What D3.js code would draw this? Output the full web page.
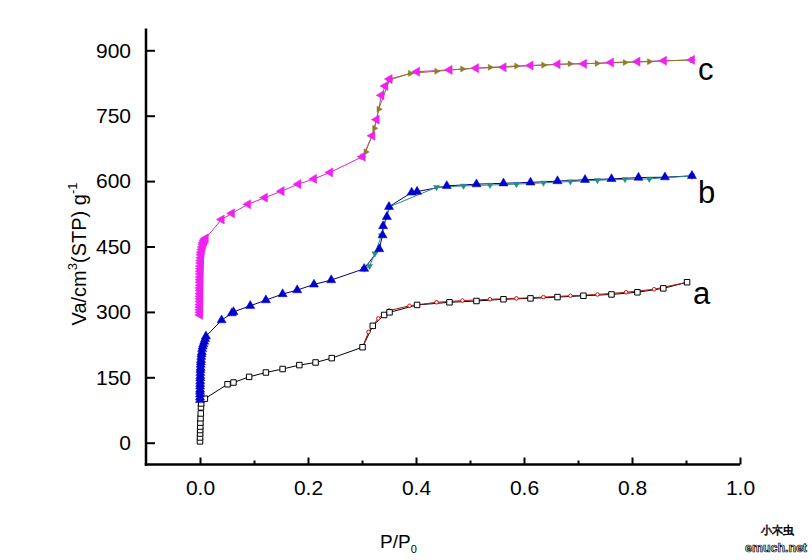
<!DOCTYPE html>
<html>
<head>
<meta charset="utf-8">
<script src="https://cdn.jsdelivr.net/npm/d3@7"></script>
<style>
  html, body { margin: 0; padding: 0; background: #fff; }
  svg { display: block; }
  text { font-family: "Liberation Sans", Arial, sans-serif; }
</style>
</head>
<body>
<svg id="chart" width="812" height="560"></svg>
<script>
// ---- data ----
const xTicks = [0.0, 0.2, 0.4, 0.6, 0.8, 1.0];
const xMinorTicks = [0.1, 0.3, 0.5, 0.7, 0.9];
const yTicks = [0, 150, 300, 450, 600, 750, 900];

// sample a
const aAdsX = [0.0000, 0.0001, 0.0002, 0.0003, 0.0005, 0.0007, 0.0010, 0.0014, 0.0018, 0.0022, 0.009, 0.051, 0.062, 0.091, 0.122, 0.153, 0.184, 0.214, 0.244, 0.301, 0.320, 0.341, 0.351, 0.402, 0.462, 0.512, 0.562, 0.612, 0.662, 0.710, 0.762, 0.810, 0.858, 0.902];
const aAdsY = [3, 12, 21, 29, 37, 46, 56, 67, 81, 90, 101, 134, 138, 151, 161, 169, 178, 184, 194, 219, 268, 293, 299, 316, 322, 325, 329, 331, 334, 337, 340, 345, 354, 368];
const aDesX = [0.902, 0.841, 0.789, 0.736, 0.686, 0.636, 0.586, 0.537, 0.486, 0.438, 0.388, 0.350, 0.330, 0.312, 0.301];
const aDesY = [368, 352, 345, 340, 337, 334, 331, 329, 326, 322, 314, 303, 285, 254, 219];

// sample b
const bAdsX = [0.0000, 0.0000, 0.0001, 0.0001, 0.0002, 0.0002, 0.0003, 0.0004, 0.0005, 0.0006, 0.0007, 0.0009, 0.0011, 0.0013, 0.0016, 0.0019, 0.0023, 0.0028, 0.0034, 0.0041, 0.0050, 0.0062, 0.0078, 0.0095, 0.011, 0.040, 0.059, 0.062, 0.093, 0.122, 0.153, 0.180, 0.211, 0.243, 0.304, 0.332, 0.338, 0.339, 0.346, 0.350, 0.392, 0.402, 0.457, 0.512, 0.562, 0.612, 0.662, 0.713, 0.762, 0.812, 0.861, 0.911];
const bAdsY = [98, 104, 111, 117, 122, 129, 135, 141, 148, 153, 160, 167, 172, 179, 185, 190, 197, 203, 208, 215, 221, 226, 232, 238, 244, 281, 297, 300, 314, 327, 341, 350, 363, 373, 399, 444, 476, 497, 518, 541, 574, 576, 589, 593, 595, 597, 600, 603, 605, 608, 609, 612];
const bDesX = [0.911, 0.832, 0.787, 0.736, 0.686, 0.636, 0.586, 0.537, 0.488, 0.438, 0.351, 0.336, 0.324, 0.314, 0.304];
const bDesY = [612, 605, 604, 602, 599, 596, 593, 591, 589, 586, 541, 475, 434, 405, 399];

// sample c
const cAdsX = [0.0000, 0.0000, 0.0000, 0.0000, 0.0001, 0.0001, 0.0001, 0.0002, 0.0002, 0.0003, 0.0003, 0.0004, 0.0004, 0.0005, 0.0006, 0.0007, 0.0008, 0.0009, 0.0011, 0.0013, 0.0015, 0.0018, 0.0021, 0.0026, 0.0035, 0.0045, 0.0055, 0.0065, 0.0078, 0.0090, 0.0105, 0.040, 0.059, 0.089, 0.120, 0.151, 0.182, 0.211, 0.241, 0.301, 0.319, 0.327, 0.336, 0.343, 0.351, 0.402, 0.462, 0.511, 0.562, 0.612, 0.662, 0.711, 0.761, 0.810, 0.859, 0.911];
const cAdsY = [293, 299, 305, 311, 317, 324, 330, 336, 342, 349, 355, 361, 368, 374, 380, 387, 393, 399, 405, 412, 418, 424, 431, 437, 443, 449, 455, 459, 463, 466, 469, 512, 526, 547, 562, 577, 593, 605, 620, 656, 704, 741, 797, 818, 834, 851, 855, 859, 861, 865, 868, 869, 872, 874, 876, 878];
const cDesX = [0.911, 0.832, 0.787, 0.735, 0.685, 0.636, 0.586, 0.537, 0.486, 0.438, 0.389, 0.351, 0.331, 0.323, 0.307, 0.301];
const cDesY = [878, 874, 872, 870, 869, 866, 864, 861, 857, 852, 847, 832, 765, 721, 667, 656];

const seriesLabels = ["a", "b", "c"];
const labelAnchorX = [0.902, 0.911, 0.911];
const labelAnchorY = [368, 612, 878];

// ---- chart ----
const svg = d3.select("#chart");
svg.append("rect").attr("width", 812).attr("height", 560).attr("fill", "#fff");

const x = d3.scaleLinear().domain([-0.1, 1.0]).range([146, 740]);
const y = d3.scaleLinear().domain([-50, 950]).range([464.5, 28.5]);

const zip = (xs, ys) => xs.map((v, i) => [v, ys[i]]);
const line = d3.line().x(d => x(d[0])).y(d => y(d[1]));

const ads = [
  { data: zip(aAdsX, aAdsY), stroke: "#000000", symbol: d3.symbolSquare, size: 30, rot: 0, fill: "#fff", mstroke: "#000", msw: 1 },
  { data: zip(bAdsX, bAdsY), stroke: "#000080", symbol: d3.symbolTriangle, size: 36, rot: 0, fill: "#0000cc", mstroke: "#0000cc", msw: 0.5 },
  { data: zip(cAdsX, cAdsY), stroke: "#dd22dd", symbol: d3.symbolTriangle, size: 36, rot: -90, fill: "#ee22ee", mstroke: "#ee22ee", msw: 0.5 }
];
const des = [
  { data: zip(aDesX, aDesY), stroke: "#b01818", symbol: d3.symbolCircle, size: 10, rot: 0, fill: "#fff", mstroke: "#d01010", msw: 1 },
  { data: zip(bDesX, bDesY), stroke: "#2a8a8a", symbol: d3.symbolTriangle, size: 16, rot: 180, fill: "#2a8a8a", mstroke: "#2a8a8a", msw: 0.5 },
  { data: zip(cDesX, cDesY), stroke: "#8a8020", symbol: d3.symbolTriangle, size: 16, rot: 90, fill: "#8a8020", mstroke: "#8a8020", msw: 0.5 }
];

function drawLine(s) {
  svg.append("path").datum(s.data)
    .attr("d", line).attr("fill", "none")
    .attr("stroke", s.stroke).attr("stroke-width", 1);
}
function drawMarks(s) {
  const sym = d3.symbol().type(s.symbol).size(s.size);
  svg.append("g").selectAll("path").data(s.data).join("path")
    .attr("d", sym)
    .attr("transform", d => `translate(${x(d[0])},${y(d[1])}) rotate(${s.rot})`)
    .attr("fill", s.fill).attr("stroke", s.mstroke).attr("stroke-width", s.msw);
}
ads.forEach(drawLine);
des.forEach(drawLine);
des.forEach(drawMarks);
ads.forEach(drawMarks);

// axes
const fontStack = '"Liberation Sans", Arial, sans-serif';
const yAxis = d3.axisLeft(y).tickValues(yTicks).tickSize(-9).tickSizeOuter(0).tickPadding(15).tickFormat(d3.format("d"));
const gy = svg.append("g").attr("transform", "translate(146,0)").call(yAxis);
gy.select(".domain").remove();
gy.selectAll(".tick line").attr("stroke", "#000").attr("stroke-width", 2);
gy.selectAll(".tick text").attr("font-size", 21).attr("font-family", fontStack).attr("fill", "#000");

const xAxis = d3.axisBottom(x).tickValues(xTicks).tickSize(-7).tickSizeOuter(0).tickPadding(16).tickFormat(d3.format(".1f"));
const gx = svg.append("g").attr("transform", "translate(0,464.5)").call(xAxis);
gx.select(".domain").remove();
gx.selectAll(".tick line").attr("stroke", "#000").attr("stroke-width", 2);
gx.selectAll(".tick text").attr("font-size", 21).attr("font-family", fontStack).attr("fill", "#000");

const xMinor = d3.axisBottom(x).tickValues(xMinorTicks).tickSize(-4).tickSizeOuter(0).tickFormat("");
const gxm = svg.append("g").attr("transform", "translate(0,464.5)").call(xMinor);
gxm.select(".domain").remove();
gxm.selectAll(".tick line").attr("stroke", "#000").attr("stroke-width", 2);

// axis lines
svg.append("line").attr("x1", 146).attr("x2", 146).attr("y1", y.range()[1]).attr("y2", 465.7)
  .attr("stroke", "#000").attr("stroke-width", 2.5);
svg.append("line").attr("x1", 144.8).attr("x2", 740).attr("y1", 464.5).attr("y2", 464.5)
  .attr("stroke", "#000").attr("stroke-width", 2.5);

// series labels
const labelDy = [22, 27, 20];
seriesLabels.forEach((t, i) => {
  svg.append("text")
    .attr("x", x(labelAnchorX[i]) + 6).attr("y", y(labelAnchorY[i]) + labelDy[i])
    .attr("font-size", 31).attr("font-family", fontStack).attr("fill", "#000")
    .text(t);
});

// axis titles
const yl = svg.append("text")
  .attr("transform", "translate(86,254) rotate(-90)")
  .attr("text-anchor", "middle")
  .attr("font-size", 20).attr("font-family", fontStack).attr("fill", "#000");
yl.append("tspan").text("Va/cm");
yl.append("tspan").attr("font-size", 13).attr("dy", -9).text("3");
yl.append("tspan").attr("dy", 9).text("(STP) g");
yl.append("tspan").attr("font-size", 13).attr("dy", -9).text("-1");

const xl = svg.append("text")
  .attr("x", 380).attr("y", 548)
  .attr("font-size", 19).attr("font-family", fontStack).attr("fill", "#000");
xl.append("tspan").text("P/P");
xl.append("tspan").attr("font-size", 11).attr("dy", 5).text("0");

// watermark
svg.append("text").attr("x", 777).attr("y", 534).attr("text-anchor", "middle")
  .attr("font-size", 11).attr("font-family", '"Noto Sans CJK SC", sans-serif')
  .attr("fill", "#fff").attr("stroke", "#000").attr("stroke-width", 0.7).text("小木虫");
svg.append("text").attr("x", 776).attr("y", 552).attr("text-anchor", "middle")
  .attr("font-size", 12).attr("font-weight", "bold").attr("font-family", fontStack)
  .attr("textLength", 62).attr("lengthAdjust", "spacingAndGlyphs")
  .attr("fill", "#fff").attr("stroke", "#000").attr("stroke-width", 0.7).text("emuch.net");
</script>
</body>
</html>
